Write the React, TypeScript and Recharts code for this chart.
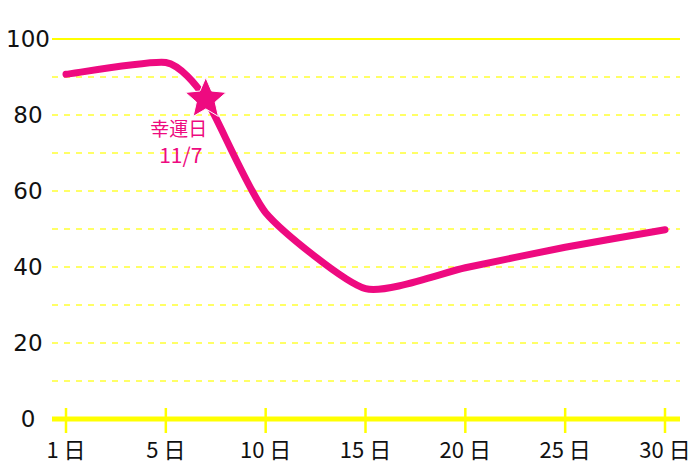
import { LineChart, Line, XAxis, YAxis, CartesianGrid, ReferenceLine, ReferenceDot } from 'recharts';

const tickDays = [1, 5, 10, 15, 20, 25, 30];
const tickLabels = ['1日', '5日', '10日', '15日', '20日', '25日', '30日'];
const lineDays = [1, 5, 7, 10, 15, 20, 25, 30];
const lineValues = [90.7, 93.8, 84.2, 54.3, 34.3, 39.8, 45.2, 49.8];
const yTicks = [0, 20, 40, 60, 80, 100];
const dashedGrid = [10, 20, 30, 40, 50, 60, 70, 80, 90];
const luckyDay = 7;
const luckyValue = 84.2;
const luckyLabel = ['幸運日', '11/7'];

const PINK = '#ee0a80';
const YELLOW = '#ffff00';
const FONT = '"Noto Sans CJK JP", "Noto Sans", sans-serif';

// the day ticks are evenly spaced, so a day is placed by its slot between ticks
const slot = (day: number) => {
  for (let i = 0; i < tickDays.length - 1; i++) {
    if (day <= tickDays[i + 1]) return i + (day - tickDays[i]) / (tickDays[i + 1] - tickDays[i]);
  }
  return tickDays.length - 1;
};

const data = lineDays.map((d, i) => ({ slot: slot(d), value: lineValues[i] }));
const slotTicks = tickDays.map((_, i) => i);

// cardinal-style curve with a tight tension: corners are only slightly rounded
const softCurve = (context: any) => {
  let pts: number[][] = [];
  const k = 0.1;
  return {
    areaStart() {},
    areaEnd() {},
    lineStart() {
      pts = [];
    },
    point(x: number, y: number) {
      pts.push([x, y]);
    },
    lineEnd() {
      if (!pts.length) return;
      context.moveTo(pts[0][0], pts[0][1]);
      for (let i = 0; i < pts.length - 1; i++) {
        const p0 = pts[i - 1] || pts[i];
        const p1 = pts[i];
        const p2 = pts[i + 1];
        const p3 = pts[i + 2] || p2;
        context.bezierCurveTo(
          p1[0] + k * (p2[0] - p0[0]),
          p1[1] + k * (p2[1] - p0[1]),
          p2[0] - k * (p3[0] - p1[0]),
          p2[1] - k * (p3[1] - p1[1]),
          p2[0],
          p2[1],
        );
      }
    },
  };
};

const DayTick = ({ x, y, payload }: any) => {
  const label = tickLabels[payload.value];
  return (
    <g>
      <line x1={x} x2={x} y1={y - 11} y2={y + 14} stroke={YELLOW} strokeWidth={2.5} />
      <text x={x} y={y + 39} textAnchor="middle" fontSize={22} fill="#111" fontFamily={FONT}>
        {label.slice(0, -1)}
        <tspan dx={5}>{label.slice(-1)}</tspan>
      </text>
    </g>
  );
};

const ValueTick = ({ y, payload }: any) => (
  <text x={28} y={y} dy="0.36em" textAnchor="middle" fontSize={23} fill="#111" fontFamily='"DejaVu Sans", sans-serif'>
    {payload.value}
  </text>
);

const starPoints = (cx: number, cy: number, r: number) => {
  const pts: string[] = [];
  for (let i = 0; i < 10; i++) {
    const rad = i % 2 === 0 ? r : r * 0.46;
    const a = -Math.PI / 2 + (i * Math.PI) / 5;
    pts.push(`${cx + rad * Math.cos(a)},${cy + rad * Math.sin(a)}`);
  }
  return pts.join(' ');
};

const LuckyStar = ({ cx, cy }: any) => (
  <g>
    <polygon points={starPoints(cx, cy, 21.5)} fill={PINK} stroke="#fff" strokeWidth={1} />
    <text x={cx - 27} y={cy + 37} textAnchor="middle" fontSize={19} fill={PINK} fontFamily={FONT}>
      {luckyLabel[0]}
    </text>
    <text x={cx - 25} y={cy + 64} textAnchor="middle" fontSize={21} fill={PINK} fontFamily={FONT}>
      {luckyLabel[1]}
    </text>
  </g>
);

export default function App() {
  return (
    <div style={{ position: 'absolute', left: 0, top: 0, background: '#fff' }}>
      <LineChart width={700} height={467} data={data} margin={{ top: 39, right: 20, bottom: 0, left: 0 }}>
        <CartesianGrid horizontalValues={dashedGrid} vertical={false} stroke="#ffff66" strokeWidth={2} strokeDasharray="6 6" />
        <ReferenceLine y={100} stroke={YELLOW} strokeWidth={2} />
        <XAxis
          type="number"
          dataKey="slot"
          domain={[0, tickDays.length - 1]}
          ticks={slotTicks}
          interval={0}
          padding={{ left: 14, right: 15 }}
          height={48}
          axisLine={{ stroke: YELLOW, strokeWidth: 5 }}
          tickLine={false}
          tickSize={0}
          tickMargin={0}
          tick={<DayTick />}
        />
        <YAxis
          domain={[0, 100]}
          ticks={yTicks}
          width={52}
          axisLine={false}
          tickLine={false}
          tickSize={0}
          tickMargin={4}
          tick={<ValueTick />}
        />
        <Line
          type={softCurve as any}
          dataKey="value"
          stroke={PINK}
          strokeWidth={7}
          strokeLinecap="round"
          strokeLinejoin="round"
          dot={false}
          isAnimationActive={false}
        />
        <ReferenceDot x={slot(luckyDay)} y={luckyValue} r={21} shape={<LuckyStar />} />
      </LineChart>
    </div>
  );
}
